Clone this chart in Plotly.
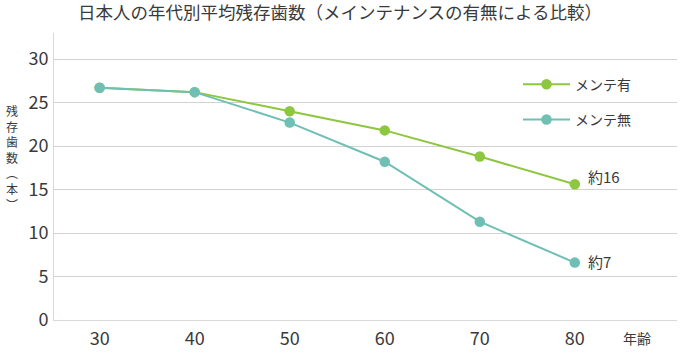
import plotly.graph_objects as go

ages = [30, 40, 50, 60, 70, 80]
with_maint = [26.7, 26.2, 24.0, 21.8, 18.8, 15.6]
without_maint = [26.7, 26.2, 22.7, 18.2, 11.3, 6.6]
series_names = ["メンテ有", "メンテ無"]
end_labels = ["約16", "約7"]
y_ticks = [0, 5, 10, 15, 20, 25, 30]

GREEN = "#8dc63f"
TEAL = "#6fbfb5"
TXT = "#3a3a3a"
FONT = "Noto Sans CJK JP"

W, H = 680, 353
ML, MR, MT, MB = 54, 3, 33, 30
PH = H - MT - MB
PW = W - ML - MR

fig = go.Figure()
for name, vals, col, grp in [(series_names[0], with_maint, GREEN, "a"),
                             (series_names[1], without_maint, TEAL, "b")]:
    fig.add_trace(go.Scatter(
        x=ages, y=vals, name=name, mode="lines+markers",
        line=dict(color=col, width=2),
        marker=dict(color=col, size=10.5),
        legendgroup=grp,
    ))

anns = []
for vals, lab, ys in [(with_maint, end_labels[0], 8), (without_maint, end_labels[1], 1)]:
    anns.append(dict(x=ages[-1], y=vals[-1], xref="x", yref="y", text=lab,
                     showarrow=False, xanchor="left", yanchor="middle",
                     xshift=11, yshift=ys, font=dict(family=FONT, size=15, color=TXT)))

# vertical y-axis title
anns.append(dict(x=(12 - ML) / PW, y=(H - MB - 159) / PH,
                 xref="paper", yref="paper",
                 text="残<br>存<br>歯<br>数<br>︵<br>本<br>︶", showarrow=False,
                 xanchor="center", yanchor="middle", align="center",
                 font=dict(family=FONT, size=12, color=TXT)))

anns.append(dict(x=(637 - ML) / PW, y=(H - MB - 341) / PH,
                 xref="paper", yref="paper", text="年齢", showarrow=False,
                 xanchor="center", yanchor="middle",
                 font=dict(family=FONT, size=14, color=TXT)))

fig.update_layout(
    width=W, height=H,
    margin=dict(l=ML, r=MR, t=MT, b=MB, pad=0),
    paper_bgcolor="white", plot_bgcolor="white",
    font=dict(family=FONT, color=TXT),
    title=dict(text="日本人の年代別平均残存歯数（メインテナンスの有無による比較）",
               x=0.5, xref="container", xanchor="center",
               y=1 - 13 / H, yref="container", yanchor="middle",
               font=dict(family=FONT, size=17.5, color=TXT)),
    xaxis=dict(range=[25.2, 90.75], tickvals=ages, showgrid=False,
               showline=True, linecolor="#d9d9d9", linewidth=1,
               zeroline=False, ticks="", tickfont=dict(family=FONT, size=18, color=TXT),
               ticklabelstandoff=2),
    yaxis=dict(range=[0, 33], tickvals=y_ticks, showgrid=True, gridcolor="#d2d2d2",
               gridwidth=1, showline=True, linecolor="#d9d9d9", linewidth=1,
               zeroline=False, ticks="", tickfont=dict(family=FONT, size=18, color=TXT),
               ticklabelstandoff=1),
    legend=dict(x=(518 - ML) / PW, y=(H - MB - 69) / PH,
                xanchor="left", yanchor="top", bgcolor="rgba(0,0,0,0)",
                traceorder="grouped", tracegroupgap=14, itemwidth=47,
                font=dict(family=FONT, size=14, color=TXT)),
    annotations=anns,
)

fig.write_html("out.html")
